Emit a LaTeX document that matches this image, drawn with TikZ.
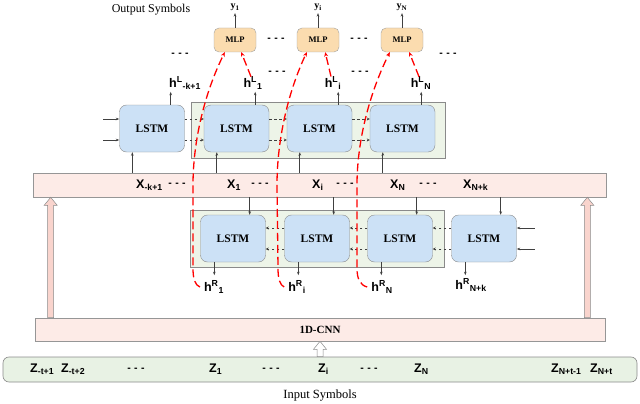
\documentclass[tikz,border=0pt]{standalone}
\usepackage{fontspec}
\setmainfont{Liberation Serif}
\setsansfont{Liberation Sans}
\usetikzlibrary{arrows.meta,calc}
\definecolor{lstmblue}{HTML}{CCE1F6}
\definecolor{mlporange}{HTML}{FBDCAF}
\definecolor{contgreen}{HTML}{EDF4E8}
\definecolor{barpink}{HTML}{FDEBE7}
\definecolor{zgreen}{HTML}{E8F2E4}
\definecolor{apink}{HTML}{F9D4CD}
\definecolor{edgegray}{HTML}{8A8A8A}
\newcommand\hollowup[3]{\filldraw[fill=#3,draw=edgegray,line width=0.5pt]
  ($(#1)+(-3,0)$) -- ($(#2)+(-3,8)$) -- ($(#2)+(-6.5,8)$) -- (#2) --
  ($(#2)+(6.5,8)$) -- ($(#2)+(3,8)$) -- ($(#1)+(3,0)$) -- cycle;}
\begin{document}
\begin{tikzpicture}[x=1pt,y=-1pt,
 lstm/.style={draw=edgegray, fill=lstmblue, rounded corners=7pt, minimum width=65pt, minimum height=47pt, inner sep=0pt, font=\fontsize{11.5}{13}\selectfont\bfseries},
 mlp/.style={draw=edgegray!80, fill=mlporange, rounded corners=5pt, minimum width=42pt, minimum height=24pt, inner sep=0pt, font=\fontsize{8.5}{10}\selectfont\bfseries},
 cont/.style={draw=edgegray, fill=contgreen, line width=0.6pt, inner sep=0pt},
 bar/.style={draw=edgegray!90, fill=barpink, line width=0.6pt, inner sep=0pt},
 lab/.style={font=\sffamily\bfseries\fontsize{12.5}{14}\selectfont, inner sep=0pt},
 ylab/.style={font=\bfseries\fontsize{10}{12}\selectfont, inner sep=0pt},
 dotsn/.style={font=\sffamily\bfseries\fontsize{10.5}{10}\selectfont, inner sep=0pt},
 sarrow/.style={-{Stealth[length=3.5pt,width=2.6pt]}, line width=0.7pt, black!75},
 link/.style={dash pattern=on 2.5pt off 2.5pt, line width=0.6pt, black!75},
 linktip/.style={-{Stealth[open,length=3pt,width=3pt]}},
 reddash/.style={red, line width=1.3pt, dash pattern=on 8pt off 4pt},
 redtip/.style={-{Stealth[length=4.5pt,width=4pt]}},
]
\useasboundingbox (0,0) rectangle (640,404);

% bars and containers
\node[bar, minimum width=573pt, minimum height=24pt] (xbar) at (319.5,185) {};
\node[bar, minimum width=570pt, minimum height=23pt, font=\fontsize{11}{12}\selectfont\bfseries] (cnn) at (320,329.5) {1D-CNN};
\node[draw=edgegray, fill=zgreen, rounded corners=6pt, line width=0.6pt, minimum width=634pt, minimum height=25pt, inner sep=0pt] (zbar) at (320,369.5) {};
\node[cont, minimum width=254pt, minimum height=56pt] (ucont) at (318,130) {};
\node[cont, minimum width=254pt, minimum height=57pt] (dcont) at (317,238.5) {};

% texts
\node[font=\fontsize{12}{14}\selectfont, inner sep=0pt] (outs) at (151,10) {Output Symbols};
\node[font=\fontsize{12.5}{14}\selectfont, inner sep=0pt] (ins) at (320,396) {Input Symbols};

% MLPs and outputs
\node[mlp] (M0) at (235,40) {MLP};
\node[mlp] (M1) at (318,40) {MLP};
\node[mlp] (M2) at (402,40) {MLP};
\node[ylab] (y0) at (235,7.5) {y\textsubscript{1}};
\node[ylab] (y1) at (318,7.5) {y\textsubscript{i}};
\node[ylab] (y2) at (402,7.5) {y\textsubscript{N}};
\foreach \i in {0,1,2} {\draw[sarrow] (M\i.north) -- ($(y\i.south)+(0,2)$);}

% dots
\foreach \p in {(276,40),(359,40),(180,55),(448,55),(277,73),(360,73),
  (177,185),(260,185),(345,185),(428,185),(136,370),(271,370),(369,370)}
  {\node[dotsn] at \p {-\hspace{3.5pt}-\hspace{3.5pt}-};}

% h^L labels
\node[lab] (hL0) at (185,83) {h\textsuperscript{L}\textsubscript{-k+1}};
\node[lab] (hL1) at (253,83) {h\textsuperscript{L}\textsubscript{1}};
\node[lab] (hL2) at (333,83) {h\textsuperscript{L}\textsubscript{i}};
\node[lab] (hL3) at (421,83) {h\textsuperscript{L}\textsubscript{N}};

% upper LSTMs
\node[lstm] (U0) at (152,128.5) {LSTM};
\node[lstm] (U1) at (236.5,128.5) {LSTM};
\node[lstm] (U2) at (319.5,128.5) {LSTM};
\node[lstm] (U3) at (402.5,128.5) {LSTM};
\coordinate (ui0) at ($(U0.west)+(-16,-9.5)$);
\coordinate (ui1) at ($(U0.west)+(-16,11.5)$);
\draw[sarrow] (ui0) -- ($(U0.west)+(0,-9.5)$);
\draw[sarrow] (ui1) -- ($(U0.west)+(0,11.5)$);
\foreach \a/\b in {0/1,1/2,2/3} {
  \draw[link,linktip] ($(U\a.east)+(0,-9.5)$) -- ($(U\b.west)+(0,-9.5)$);
  \draw[link,linktip] ($(U\a.east)+(0,11.5)$) -- ($(U\b.west)+(0,11.5)$);
}
\foreach \i in {0,...,3} {
  \coordinate (ua\i) at ($(U\i.south west)+(13,0)$);
  \draw[sarrow] (ua\i |- xbar.north) -- (ua\i);
  \coordinate (ub\i) at ($(U\i.north east)+(-14,0)$);
  \draw[sarrow] (ub\i) -- ++(0,-13);
}

% X labels
\node[lab, anchor=west] (x0) at (136,185) {X\textsubscript{-k+1}};
\node[lab, anchor=west] (x1) at (227,185) {X\textsubscript{1}};
\node[lab, anchor=west] (x2) at (312,185) {X\textsubscript{i}};
\node[lab, anchor=west] (x3) at (390,185) {X\textsubscript{N}};
\node[lab, anchor=west] (x4) at (463,185) {X\textsubscript{N+k}};

% lower LSTMs
\node[lstm] (D0) at (233,238.5) {LSTM};
\node[lstm] (D1) at (317,238.5) {LSTM};
\node[lstm] (D2) at (400,238.5) {LSTM};
\node[lstm] (D3) at (484,238.5) {LSTM};
\foreach \a/\b in {0/1,1/2,2/3} {
  \draw[link,linktip] ($(D\b.west)+(0,-10.5)$) -- ($(D\a.east)+(0,-10.5)$);
  \draw[link,linktip] ($(D\b.west)+(0,10.5)$) -- ($(D\a.east)+(0,10.5)$);
}
\coordinate (di0) at ($(D3.east)+(18,-10.5)$);
\coordinate (di1) at ($(D3.east)+(18,10.5)$);
\draw[sarrow] (di0) -- ($(D3.east)+(0,-10.5)$);
\draw[sarrow] (di1) -- ($(D3.east)+(0,10.5)$);
\foreach \i in {0,...,3} {
  \coordinate (da\i) at ($(D\i.north east)+(-16,0)$);
  \draw[sarrow] (da\i |- xbar.south) -- (da\i);
  \coordinate (db\i) at ($(D\i.south west)+(14,0)$);
  \draw[sarrow] (db\i) -- ++(0,13);
}

% h^R labels
\node[lab] (hR0) at (214,287) {h\textsuperscript{R}\textsubscript{1}};
\node[lab] (hR1) at (297,287) {h\textsuperscript{R}\textsubscript{i}};
\node[lab] (hR2) at (382,287) {h\textsuperscript{R}\textsubscript{N}};
\node[lab] (hR3) at (471,285) {h\textsuperscript{R}\textsubscript{N+k}};

% Z labels
\node[lab, anchor=west] (z0) at (30,369) {Z\textsubscript{-t+1}};
\node[lab, anchor=west] (z1) at (61,369) {Z\textsubscript{-t+2}};
\node[lab, anchor=west] (z2) at (209,369) {Z\textsubscript{1}};
\node[lab, anchor=west] (z3) at (318,369) {Z\textsubscript{i}};
\node[lab, anchor=west] (z4) at (414,369) {Z\textsubscript{N}};
\node[lab, anchor=west] (z5) at (551,369) {Z\textsubscript{N+t-1}};
\node[lab, anchor=west] (z6) at (590,369) {Z\textsubscript{N+t}};

% hollow arrows
\path (cnn.north west) ++(16,0) coordinate (pa0);
\path (cnn.north east) ++(-18,0) coordinate (pb0);
\coordinate (pa1) at (pa0 |- xbar.south);
\coordinate (pb1) at (pb0 |- xbar.south);
\hollowup{pa0}{pa1}{apink}
\hollowup{pb0}{pb1}{apink}
\hollowup{zbar.north}{cnn.south}{white}

% red dashed connections
\draw[reddash, redtip] ($(hR0.west)+(-4,0)$) .. controls (195,285) and (193,279) .. (193,268)
  -- (193,185) .. controls (193,140) and (205,92) .. ($(M0.south west)+(11,0)$);
\draw[reddash, redtip] ($(hR1.west)+(-4,0)$) .. controls (280,285) and (278,279) .. (278,268)
  -- (277,185) .. controls (277,140) and (288,92) .. ($(M1.south west)+(10,0)$);
\draw[reddash, redtip] ($(hR2.west)+(-4,0)$) .. controls (360,285) and (357,279) .. (357,268)
  -- (357,185) .. controls (357,140) and (370,92) .. ($(M2.south west)+(9,0)$);
\draw[reddash, redtip] ($(hL1.north)+(-2,0)$) -- ($(M0.south east)+(-15,0)$);
\draw[reddash, redtip] ($(hL2.north)+(-2,0)$) -- ($(M1.south east)+(-14,0)$);
\draw[reddash, redtip] ($(hL3.north)+(-2,0)$) -- ($(M2.south east)+(-14,0)$);
\end{tikzpicture}
\end{document}
